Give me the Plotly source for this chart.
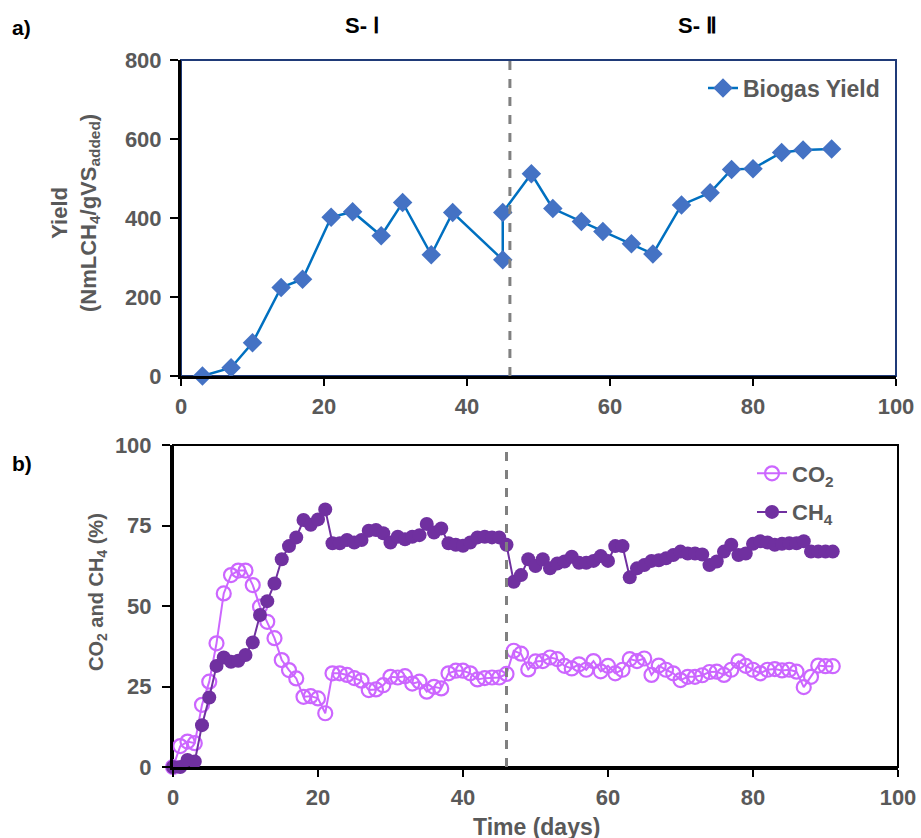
import plotly.graph_objects as go

# ---- Data: panel a) biogas yield ----
yield_days = [3, 7, 10, 14, 17, 21, 24, 28, 31, 35, 38, 45, 45, 49, 52, 56, 59, 63, 66, 70, 74, 77, 80, 84, 87, 91]
biogas_yield = [0, 21, 84, 224, 245, 402, 416, 355, 439, 307, 414, 294, 414, 512, 424, 391, 366, 335, 309, 433, 464, 523, 525, 566, 572, 575]

# ---- Data: panel b) gas composition ----
gas_days = list(range(0, 92))
co2 = [0, 6.5, 7.9, 7.4, 19.3, 26.5, 38.4, 53.9, 59.6, 61, 61, 56.5, 49.8, 45.1, 40, 33.2, 30.1, 27.5, 21.8, 22, 21.3, 16.7,
       29.1, 29.1, 28.6, 27.6, 26.8, 23.9, 24.1, 25.4, 28, 27.8, 28.2, 25.9, 26.5, 23.4, 24.9, 24.4, 29.1, 29.9, 29.9, 29.1,
       27.2, 27.6, 27.8, 27.8, 28.9, 36.1, 35.2, 30.3, 32.8, 32.9, 34, 33.5, 31.4, 30.6, 31.9, 30.2, 32.9, 29.7, 31.4, 29.1,
       30.2, 33.5, 32.9, 33.7, 28.6, 31.5, 30.2, 29.1, 27, 28, 28, 28.5, 29.5, 29.6, 28.6, 30.2, 32.8, 31.4, 30.2, 29.1,
       30.2, 30.4, 30, 30.2, 29.6, 24.8, 28, 31.5, 31.3, 31.3]
ch4 = [0, 0, 2.2, 1.7, 13, 21.6, 31.4, 34, 32.7, 33, 34.8, 38.7, 47.2, 51.5, 57, 64.5, 68.6, 71.3, 76.7, 75.2, 76.9, 80,
       69.5, 69.5, 70.5, 69.7, 70.5, 73.4, 73.6, 72.6, 69.7, 71.5, 70.7, 71.5, 72, 75.5, 72.8, 74.1, 69.5, 69, 68.7, 69.7,
       71.3, 71.5, 71.3, 71.3, 69, 57.5, 59.6, 64.5, 62.4, 64.5, 61.7, 63.2, 63.8, 65.3, 63.4, 63.4, 64, 65.5, 64, 68.6,
       68.6, 58.9, 61.7, 62.7, 64, 64.2, 64.8, 65.8, 66.9, 66.3, 66.3, 66, 62.7, 63.8, 66.9, 69, 65.8, 66.3, 69.3, 70.1,
       69.7, 69, 69.3, 69.5, 69.5, 70.1, 66.9, 66.9, 66.9, 66.9]

stage_change_day = 46
x_ticks = [0, 20, 40, 60, 80, 100]
ya_ticks = [0, 200, 400, 600, 800]
yb_ticks = [0, 25, 50, 75, 100]

W, H = 921, 838
FONT = "Liberation Sans, Arial, sans-serif"
GRAY = "#595959"

# pixel geometry
ax_top = dict(x0=181, x1=896, y0=60, y1=376)
ax_bot = dict(x0=173, x1=898, y0=445, y1=767)

def xd(g):
    return [g["x0"] / W, g["x1"] / W]

def yd(g):
    return [1 - g["y1"] / H, 1 - g["y0"] / H]

fig = go.Figure()

fig.add_trace(go.Scatter(
    x=yield_days, y=biogas_yield, mode="lines+markers", name="Biogas Yield",
    line=dict(color="#0070C0", width=2.5),
    marker=dict(symbol="diamond", size=15, color="#4472C4"),
    xaxis="x", yaxis="y", legend="legend", cliponaxis=False,
))

fig.add_trace(go.Scatter(
    x=gas_days, y=co2, mode="lines+markers", name="CO<sub>2</sub>",
    line=dict(color="#CC66FF", width=2),
    marker=dict(symbol="circle-open", size=14, color="#CC66FF", line=dict(width=2.2, color="#CC66FF")),
    xaxis="x2", yaxis="y2", legend="legend2", legendgroup="co2", cliponaxis=False,
))
fig.add_trace(go.Scatter(
    x=gas_days, y=ch4, mode="lines+markers", name="CH<sub>4</sub>",
    line=dict(color="#7030A0", width=2),
    marker=dict(symbol="circle", size=14, color="#7030A0"),
    xaxis="x2", yaxis="y2", legend="legend2", legendgroup="ch4", cliponaxis=False,
))

tickfont = dict(family=FONT, size=22, color=GRAY, weight="bold")
common_x = dict(range=[0, 100], tickvals=x_ticks, ticks="outside", ticklen=7, tickwidth=1.5, tickcolor="black",
                showline=True, linecolor="black", linewidth=3, showgrid=False, zeroline=False,
                tickfont=tickfont, fixedrange=True, automargin=False, ticklabelstandoff=2)
common_y = dict(ticks="outside", ticklen=8, tickwidth=1.5, tickcolor="black", showline=True, linecolor="black",
                linewidth=3, showgrid=False, zeroline=False, tickfont=tickfont, fixedrange=True, automargin=False)

fig.update_layout(
    width=W, height=H, margin=dict(l=0, r=0, t=0, b=0, autoexpand=False),
    paper_bgcolor="white", plot_bgcolor="white",
    xaxis=dict(common_x, domain=xd(ax_top), anchor="y"),
    yaxis=dict(common_y, domain=yd(ax_top), anchor="x", range=[0, 800], tickvals=ya_ticks, ticklabelstandoff=4),
    xaxis2=dict(common_x, domain=xd(ax_bot), anchor="y2"),
    yaxis2=dict(common_y, domain=yd(ax_bot), anchor="x2", range=[0, 100], tickvals=yb_ticks, ticklabelstandoff=6),
    legend=dict(x=703 / W, y=1 - 88 / H, xanchor="left", yanchor="middle", bgcolor="rgba(0,0,0,0)",
                font=dict(family=FONT, size=23, color=GRAY, weight="bold"), itemwidth=30, tracegroupgap=0),
    legend2=dict(x=752 / W, y=1 - 493 / H, xanchor="left", yanchor="middle", bgcolor="rgba(0,0,0,0)",
                 font=dict(family=FONT, size=22, color=GRAY, weight="bold"), itemwidth=30, tracegroupgap=7),
    showlegend=True,
)

shapes = [
    # panel borders
    dict(type="rect", xref="paper", yref="paper", x0=xd(ax_top)[0], x1=xd(ax_top)[1], y0=yd(ax_top)[0], y1=yd(ax_top)[1],
         line=dict(color="#1F3A78", width=2), layer="below"),
    dict(type="rect", xref="paper", yref="paper", x0=xd(ax_bot)[0], x1=xd(ax_bot)[1], y0=yd(ax_bot)[0], y1=yd(ax_bot)[1],
         line=dict(color="black", width=2), layer="below"),
    # stage change lines
    dict(type="line", xref="x", yref="y domain", x0=stage_change_day, x1=stage_change_day, y0=0, y1=1,
         line=dict(color="#808080", width=3, dash="dash")),
    dict(type="line", xref="x2", yref="y2 domain", x0=stage_change_day, x1=stage_change_day, y0=0, y1=1,
         line=dict(color="#808080", width=3, dash="dash")),
]
fig.update_layout(shapes=shapes)

ann = [
    dict(text="a)", x=10 / W, y=1 - 27 / H, xanchor="left", yanchor="middle",
         font=dict(family=FONT, size=21, color="black", weight="bold")),
    dict(text="b)", x=10 / W, y=1 - 464 / H, xanchor="left", yanchor="middle",
         font=dict(family=FONT, size=21, color="black", weight="bold")),
    dict(text="S- Ⅰ", x=362 / W, y=1 - 25 / H, xanchor="center", yanchor="middle",
         font=dict(family=FONT, size=22, color="black", weight="bold")),
    dict(text="S- Ⅱ", x=697 / W, y=1 - 25 / H, xanchor="center", yanchor="middle",
         font=dict(family=FONT, size=22, color="black", weight="bold")),
    dict(text="Yield<br>(NmLCH<sub>4</sub>/gVS<sub>added</sub>)", x=75 / W, y=1 - 213 / H, textangle=-90,
         xanchor="center", yanchor="middle",
         font=dict(family=FONT, size=22, color=GRAY, weight="bold")),
    dict(text="CO<sub>2</sub> and CH<sub>4</sub> (%)", x=97 / W, y=1 - 592 / H, textangle=-90,
         xanchor="center", yanchor="middle",
         font=dict(family=FONT, size=20, color=GRAY, weight="bold")),
    dict(text="Time (days)", x=536 / W, y=1 - 827 / H, xanchor="center", yanchor="middle",
         font=dict(family=FONT, size=23, color=GRAY, weight="bold")),
]
for a in ann:
    a.update(xref="paper", yref="paper", showarrow=False)
fig.update_layout(annotations=ann)

fig.write_html("out.html")
